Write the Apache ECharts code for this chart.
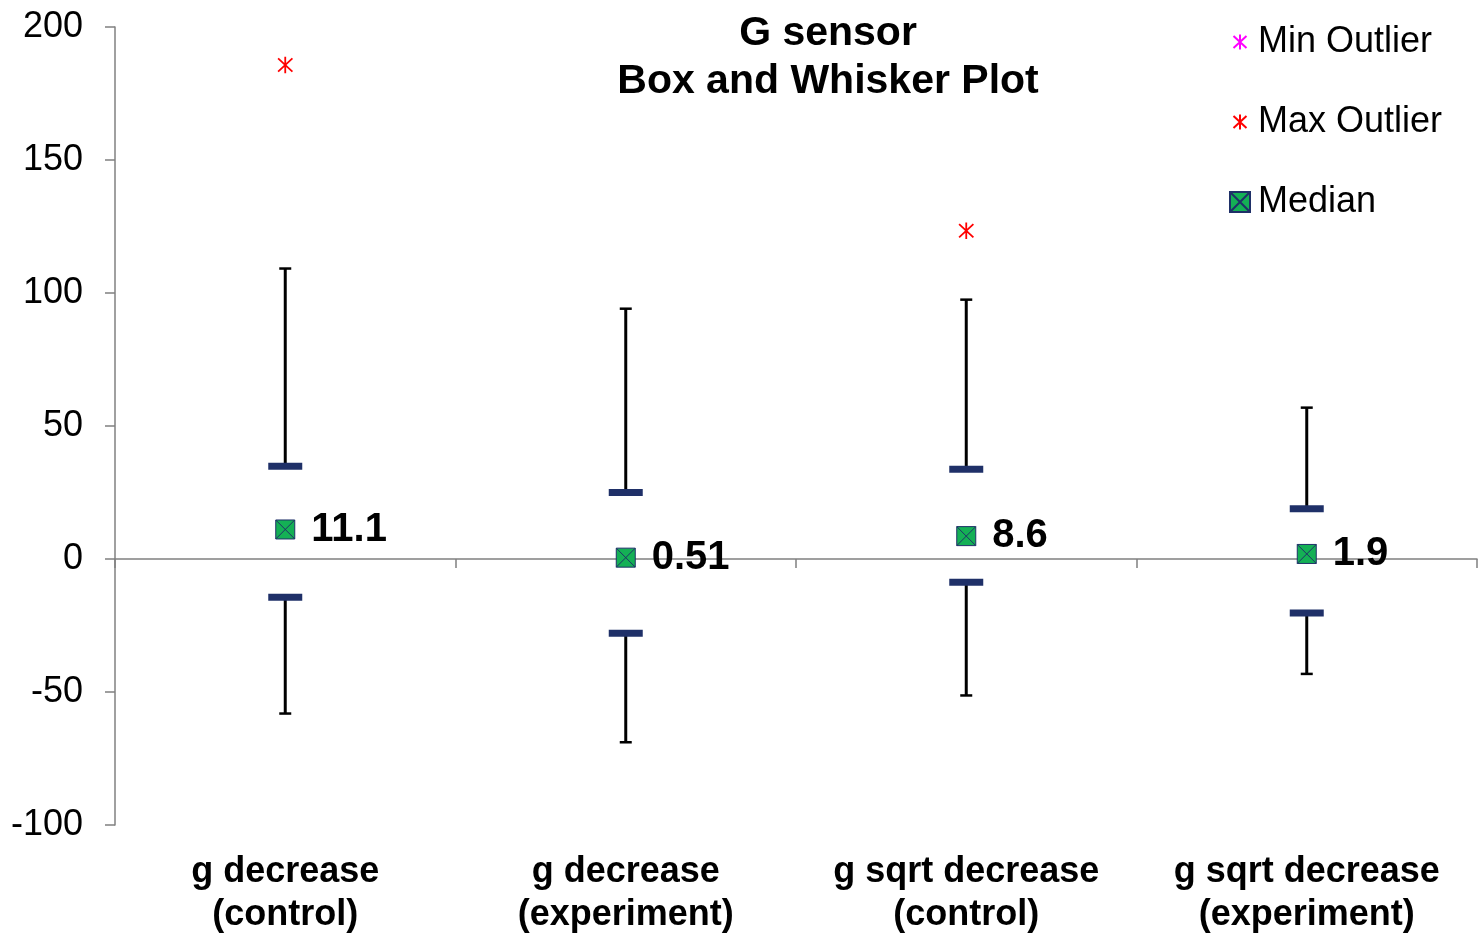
<!DOCTYPE html>
<html>
<head>
<meta charset="utf-8">
<title>G sensor Box and Whisker Plot</title>
<script src="https://cdn.jsdelivr.net/npm/echarts@6/dist/echarts.min.js"></script>
<style>
  html, body { margin: 0; padding: 0; background: #ffffff; }
  #chart { width: 1479px; height: 937px; }
</style>
</head>
<body>
<div id="chart"></div>
<script>
// Groups and their five-number summaries
const categories = [
  'g decrease\n(control)',
  'g decrease\n(experiment)',
  'g sqrt decrease\n(control)',
  'g sqrt decrease\n(experiment)'
];
const whiskerLow  = [-58.1, -68.9, -51.3, -43.2];
const q1          = [-14.4, -27.9, -8.7, -20.3];
const median      = [11.1, 0.51, 8.6, 1.9];
const q3          = [34.9, 25.0, 33.7, 18.9];
const whiskerHigh = [109.2, 94.1, 97.5, 56.9];
// Outliers as [category index, value]
const maxOutliers = [[0, 185.7], [2, 123.4]];
const minOutliers = [];

// Y axis ticks
const yMin = -100, yMax = 200, yStep = 50;

const FONT = '"Liberation Sans", Arial, sans-serif';
const NAVY = '#1f3068';
const GREEN = '#14b055';

// Marker shapes (the asterisk sits inside a 20x20 box so it keeps its size next to the square)
const asteriskPath = 'path://M0 0 L0 0 M20 20 L20 20 M10 2.5 L10 17.5 M3.5 4 L16.5 16 M16.5 4 L3.5 16';
const medianPath = 'path://M0 0 L10 0 L10 10 L0 10 Z M0 0 L10 10 M10 0 L0 10';

const summary = categories.map((c, i) => [i, whiskerLow[i], q1[i], median[i], q3[i], whiskerHigh[i]]);

function renderWhisker(params, api) {
  const x = api.value(0);
  const pLow = api.coord([x, api.value(1)]);
  const pQ1 = api.coord([x, api.value(2)]);
  const pQ3 = api.coord([x, api.value(4)]);
  const pHigh = api.coord([x, api.value(5)]);
  const cx = pLow[0];
  const capHalf = 6, barHalf = 17, barH = 7;
  const lineStyle = { stroke: '#000000', lineWidth: 3 };
  const capStyle = { stroke: '#000000', lineWidth: 2.5 };
  return {
    type: 'group',
    children: [
      { type: 'line', shape: { x1: cx, y1: pHigh[1], x2: cx, y2: pQ3[1] }, style: lineStyle },
      { type: 'line', shape: { x1: cx, y1: pQ1[1], x2: cx, y2: pLow[1] }, style: lineStyle },
      { type: 'line', shape: { x1: cx - capHalf, y1: pHigh[1], x2: cx + capHalf, y2: pHigh[1] }, style: capStyle },
      { type: 'line', shape: { x1: cx - capHalf, y1: pLow[1], x2: cx + capHalf, y2: pLow[1] }, style: capStyle },
      { type: 'rect', shape: { x: cx - barHalf, y: pQ3[1] - barH / 2, width: barHalf * 2, height: barH }, style: { fill: NAVY } },
      { type: 'rect', shape: { x: cx - barHalf, y: pQ1[1] - barH / 2, width: barHalf * 2, height: barH }, style: { fill: NAVY } }
    ]
  };
}

const chart = echarts.init(document.getElementById('chart'), null, { renderer: 'canvas' });

chart.setOption({
  animation: false,
  backgroundColor: '#ffffff',
  title: {
    text: 'G sensor\nBox and Whisker Plot',
    left: 823,
    top: 5,
    textAlign: 'center',
    textStyle: { fontFamily: FONT, fontSize: 41, fontWeight: 'bold', color: '#000', lineHeight: 48 }
  },
  legend: {
    orient: 'vertical',
    left: 1229,
    top: 22,
    padding: 0,
    itemGap: 40,
    itemWidth: 20,
    itemHeight: 20,
    data: [
      { name: 'Min Outlier', icon: asteriskPath },
      { name: 'Max Outlier', icon: asteriskPath },
      { name: 'Median', icon: medianPath }
    ],
    textStyle: { fontFamily: FONT, fontSize: 36, color: '#000', lineHeight: 40, padding: [0, 0, 0, 3] }
  },
  grid: { left: 115, right: 2, top: 27, bottom: 111 },
  xAxis: [
    {
      type: 'category',
      data: categories,
      axisLine: { onZero: true, lineStyle: { color: '#808080', width: 1.5 } },
      axisTick: { show: true, length: 9, lineStyle: { color: '#808080', width: 1.5 } },
      axisLabel: { show: false },
      splitLine: { show: false }
    },
    {
      type: 'category',
      data: categories,
      position: 'bottom',
      axisLine: { show: false, onZero: false },
      axisTick: { show: false },
      axisLabel: {
        interval: 0,
        margin: 26,
        fontFamily: FONT, fontSize: 36, fontWeight: 'bold', color: '#000', lineHeight: 43
      }
    }
  ],
  yAxis: {
    type: 'value',
    min: yMin,
    max: yMax,
    interval: yStep,
    axisLine: { show: true, lineStyle: { color: '#808080', width: 1.5 } },
    axisTick: { show: true, length: 10, lineStyle: { color: '#808080', width: 1.5 } },
    axisLabel: { margin: 32, fontFamily: FONT, fontSize: 36, color: '#000' },
    splitLine: { show: false }
  },
  series: [
    {
      name: 'Whiskers',
      type: 'custom',
      renderItem: renderWhisker,
      data: summary,
      encode: { x: 0, y: [1, 2, 3, 4, 5] },
      z: 2
    },
    {
      name: 'Min Outlier',
      type: 'scatter',
      data: minOutliers,
      symbol: asteriskPath,
      symbolSize: 22,
      itemStyle: { color: 'transparent', borderColor: '#ff00ff', borderWidth: 1.8, opacity: 1 },
      z: 3
    },
    {
      name: 'Max Outlier',
      type: 'scatter',
      data: maxOutliers,
      symbol: asteriskPath,
      symbolSize: 22,
      itemStyle: { color: 'transparent', borderColor: '#ff0000', borderWidth: 1.8, opacity: 1 },
      z: 3
    },
    {
      name: 'Median',
      type: 'scatter',
      data: median.map((v, i) => [i, v]),
      symbol: medianPath,
      symbolSize: 19,
      itemStyle: { color: GREEN, borderColor: NAVY, borderWidth: 1, opacity: 1 },
      label: {
        show: true,
        position: 'right',
        distance: 16,
        formatter: p => String(median[p.dataIndex]),
        fontFamily: FONT,
        fontSize: 40,
        fontWeight: 'bold',
        color: '#000000'
      },
      z: 4
    }
  ]
});
</script>
</body>
</html>
